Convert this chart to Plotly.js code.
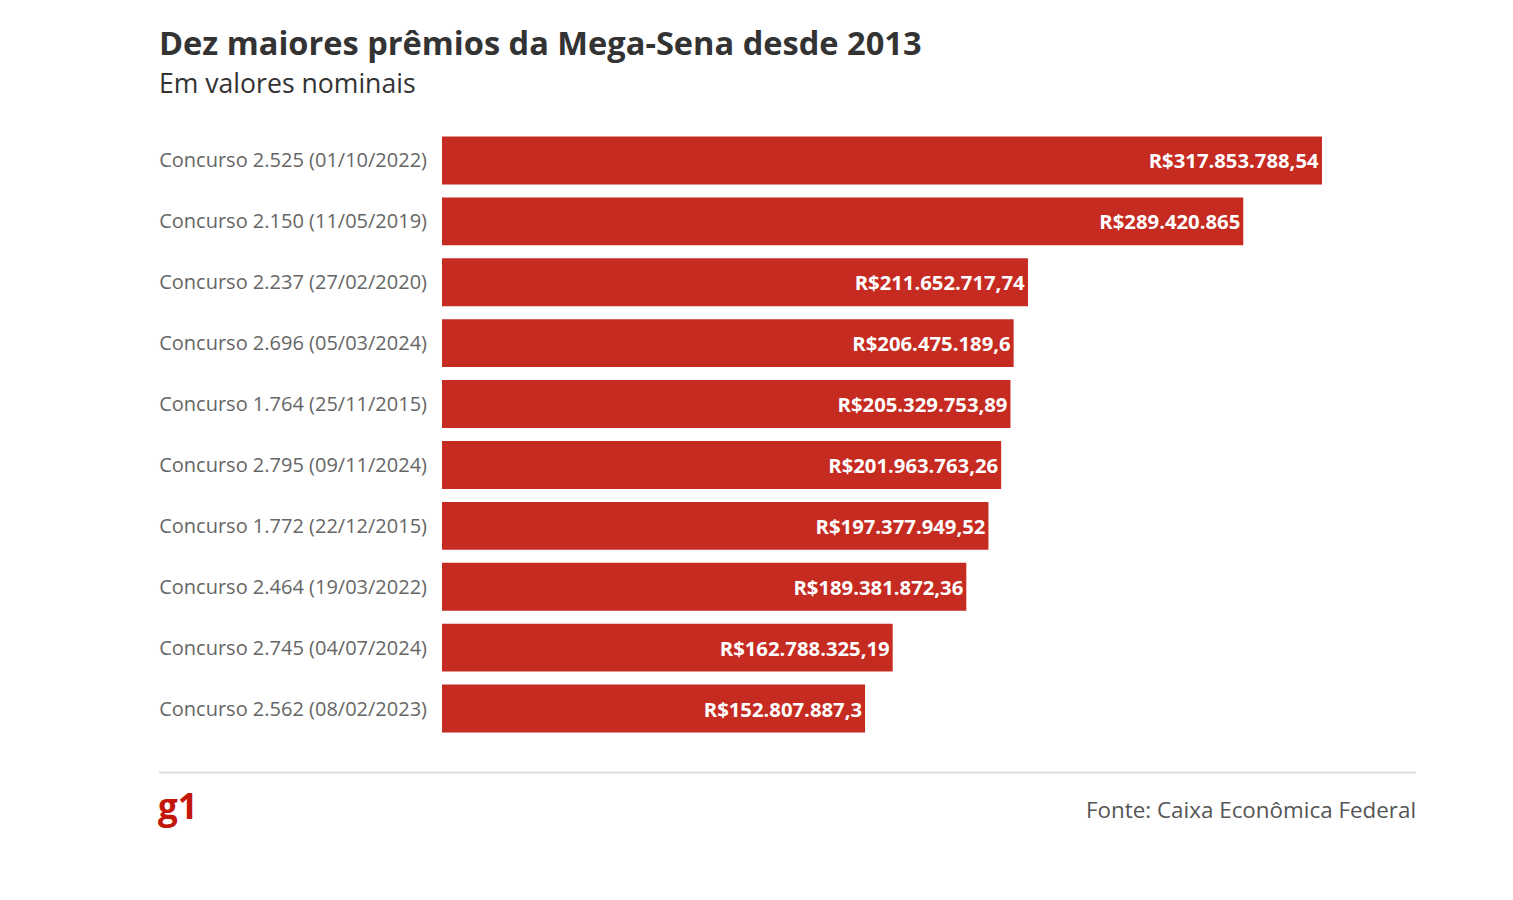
<!DOCTYPE html>
<html>
<head>
<meta charset="utf-8">
<script src="https://cdn.plot.ly/plotly-3.0.1.min.js"></script>
<style>
html,body{margin:0;padding:0;background:#fff;}
#chart{width:1513px;height:900px;}
</style>
</head>
<body>
<div id="chart"></div>
<script>
const categories = [
  "Concurso 2.525 (01/10/2022)",
  "Concurso 2.150 (11/05/2019)",
  "Concurso 2.237 (27/02/2020)",
  "Concurso 2.696 (05/03/2024)",
  "Concurso 1.764 (25/11/2015)",
  "Concurso 2.795 (09/11/2024)",
  "Concurso 1.772 (22/12/2015)",
  "Concurso 2.464 (19/03/2022)",
  "Concurso 2.745 (04/07/2024)",
  "Concurso 2.562 (08/02/2023)"
];
const prizes = [317853788.54, 289420865, 211652717.74, 206475189.6, 205329753.89, 201963763.26, 197377949.52, 189381872.36, 162788325.19, 152807887.3];
const valueLabels = [
  "R$317.853.788,54",
  "R$289.420.865",
  "R$211.652.717,74",
  "R$206.475.189,6",
  "R$205.329.753,89",
  "R$201.963.763,26",
  "R$197.377.949,52",
  "R$189.381.872,36",
  "R$162.788.325,19",
  "R$152.807.887,3"
];

const W = 1513, H = 900;
const mL = 442, mR = 97, mT = 129.5, mB = 160.5;
const pw = W - mL - mR, ph = H - mT - mB;
const px = x => (x - mL) / pw;
const py = y => (H - mB - y) / ph;

const trace = {
  type: 'bar',
  orientation: 'h',
  y: categories,
  x: prizes,
  text: valueLabels,
  texttemplate: '%{text}',
  textposition: 'inside',
  insidetextanchor: 'end',
  textfont: {family: 'Open Sans', size: 20.3, color: '#ffffff', weight: 'bold'},
  marker: {color: '#c62b22', line: {width: 0}},
  hoverinfo: 'none',
  cliponaxis: false
};

const layout = {
  width: W, height: H,
  margin: {l: mL, r: mR, t: mT, b: mB, pad: 0},
  paper_bgcolor: '#ffffff',
  plot_bgcolor: '#ffffff',
  showlegend: false,
  bargap: 0.213,
  font: {family: 'Open Sans', color: '#666666'},
  xaxis: {
    range: [0, 317853788.54 * pw / 880],
    visible: false,
    fixedrange: true
  },
  yaxis: {
    autorange: 'reversed',
    showgrid: false, zeroline: false, showline: false,
    ticks: '',
    ticklabelstandoff: 14,
    tickfont: {family: 'Open Sans', size: 20, color: '#666666'},
    fixedrange: true
  },
  shapes: [{
    type: 'line', xref: 'paper', yref: 'paper',
    x0: px(159), x1: px(1416), y0: py(773), y1: py(773),
    line: {color: '#dddddd', width: 2}
  }],
  annotations: [
    {xref: 'paper', yref: 'paper', x: px(157), y: py(41.5), xanchor: 'left', yanchor: 'middle',
     text: '<b>Dez maiores prêmios da Mega-Sena desde 2013</b>', showarrow: false,
     font: {family: 'Open Sans', size: 32.6, color: '#333333'}},
    {xref: 'paper', yref: 'paper', x: px(157), y: py(82.5), xanchor: 'left', yanchor: 'middle',
     text: 'Em valores nominais', showarrow: false,
     font: {family: 'Open Sans', size: 26.6, color: '#333333'}},
    {xref: 'paper', yref: 'paper', x: px(156), y: py(806), xanchor: 'left', yanchor: 'middle',
     text: '<b>g1</b>', showarrow: false,
     font: {family: 'Open Sans', size: 35, color: '#c4170c'}},
    {xref: 'paper', yref: 'paper', x: px(1418), y: py(810), xanchor: 'right', yanchor: 'middle',
     text: 'Fonte: Caixa Econômica Federal', showarrow: false,
     font: {family: 'Open Sans', size: 22.4, color: '#555555'}}
  ]
};

Plotly.newPlot('chart', [trace], layout, {displayModeBar: false, staticPlot: true});
</script>
</body>
</html>
